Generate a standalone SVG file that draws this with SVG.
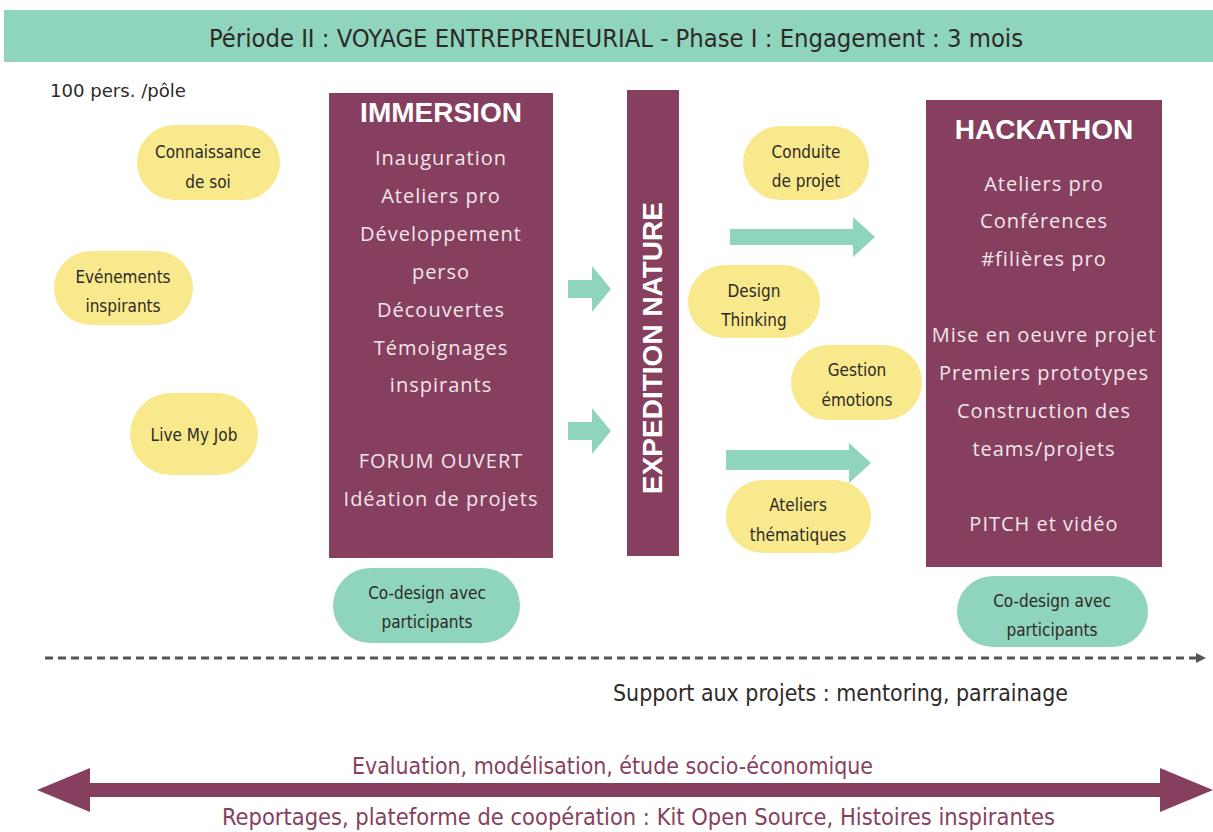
<svg xmlns="http://www.w3.org/2000/svg" width="1213" height="832" viewBox="0 0 1213 832">
<style>
.hand{font-family:'Liberation Sans Narrow','DejaVu Sans Condensed','Liberation Sans',sans-serif;fill:#2e2a28;}
.pill-y{fill:#f8e98c;}
.pill-t{fill:#8fd4bc;}
.box{fill:#863f5e;}
.bt{font-family:'Open Sans','Liberation Sans',sans-serif;fill:#f3e6ea;font-size:20px;letter-spacing:1px;text-anchor:middle;}
.title{font-family:'Liberation Sans',Arial,sans-serif;font-weight:bold;fill:#ffffff;font-size:28px;text-anchor:middle;}
.pt{font-size:17px;text-anchor:middle;}
.arrow{fill:#8fd4bc;}
</style>
<defs>
<marker id="dashHead" markerWidth="10" markerHeight="10" refX="0" refY="5" orient="auto" markerUnits="userSpaceOnUse">
<path d="M0,0 L10,5 L0,10 Z" fill="#555"/>
</marker>
</defs>
<rect width="1213" height="832" fill="#ffffff"/>

<g id="header">
<rect x="4" y="10" width="1209" height="52" fill="#8fd4bc"/>
<text class="hand" x="616" y="47" font-size="25" text-anchor="middle" textLength="814" lengthAdjust="spacingAndGlyphs">Période II : VOYAGE ENTREPRENEURIAL - Phase I : Engagement : 3 mois</text>
</g>

<g id="label-pers">
<text class="hand" x="50" y="97" font-size="18" textLength="136" lengthAdjust="spacingAndGlyphs">100 pers. /pôle</text>
</g>

<g id="connaissance">
<rect class="pill-y" x="137" y="125" width="143" height="75" rx="37.5"/>
<text class="hand pt" x="208" y="158">Connaissance</text>
<text class="hand pt" x="208" y="188">de soi</text>
</g>
<g id="evenements">
<rect class="pill-y" x="54" y="251" width="139" height="74" rx="37"/>
<text class="hand pt" x="123" y="283">Evénements</text>
<text class="hand pt" x="123" y="312">inspirants</text>
</g>
<g id="livemyjob">
<rect class="pill-y" x="130" y="393" width="128" height="82" rx="41"/>
<text class="hand pt" x="194" y="441">Live My Job</text>
</g>

<g id="immersion">
<rect class="box" x="329" y="93" width="224" height="465"/>
<text class="title" x="441" y="122">IMMERSION</text>
<text class="bt" x="441" y="165">Inauguration</text>
<text class="bt" x="441" y="203">Ateliers pro</text>
<text class="bt" x="441" y="241">Développement</text>
<text class="bt" x="441" y="279">perso</text>
<text class="bt" x="441" y="317">Découvertes</text>
<text class="bt" x="441" y="355">Témoignages</text>
<text class="bt" x="441" y="392">inspirants</text>
<text class="bt" x="441" y="468">FORUM OUVERT</text>
<text class="bt" x="441" y="506">Idéation de projets</text>
</g>
<g id="codesign-1">
<rect class="pill-t" x="333" y="568" width="187" height="75" rx="37.5"/>
<text class="hand pt" x="427" y="599">Co-design avec</text>
<text class="hand pt" x="427" y="628">participants</text>
</g>

<g id="expedition">
<rect class="box" x="627" y="90" width="52" height="466"/>
<text class="title" transform="translate(662,348) rotate(-90)" x="0" y="0" font-size="25" textLength="292" lengthAdjust="spacingAndGlyphs">EXPEDITION NATURE</text>
</g>

<g id="conduite">
<rect class="pill-y" x="743" y="126" width="126" height="74" rx="37"/>
<text class="hand pt" x="806" y="158">Conduite</text>
<text class="hand pt" x="806" y="187">de projet</text>
</g>
<g id="design">
<rect class="pill-y" x="688" y="265" width="132" height="73" rx="36.5"/>
<text class="hand pt" x="754" y="297">Design</text>
<text class="hand pt" x="754" y="326">Thinking</text>
</g>
<g id="gestion">
<rect class="pill-y" x="791" y="345" width="131" height="75" rx="37.5"/>
<text class="hand pt" x="857" y="376">Gestion</text>
<text class="hand pt" x="857" y="406">émotions</text>
</g>
<g id="ateliers">
<rect class="pill-y" x="726" y="480" width="145" height="73" rx="36.5"/>
<text class="hand pt" x="798" y="511">Ateliers</text>
<text class="hand pt" x="798" y="541">thématiques</text>
</g>

<g id="hackathon">
<rect class="box" x="926" y="100" width="236" height="467"/>
<text class="title" x="1044" y="139">HACKATHON</text>
<text class="bt" x="1044" y="191">Ateliers pro</text>
<text class="bt" x="1044" y="228">Conférences</text>
<text class="bt" x="1044" y="266">#filières pro</text>
<text class="bt" x="1044" y="342">Mise en oeuvre projet</text>
<text class="bt" x="1044" y="380">Premiers prototypes</text>
<text class="bt" x="1044" y="418">Construction des</text>
<text class="bt" x="1044" y="456">teams/projets</text>
<text class="bt" x="1044" y="531">PITCH et vidéo</text>
</g>
<g id="codesign-2">
<rect class="pill-t" x="957" y="576" width="191" height="71" rx="35.5"/>
<text class="hand pt" x="1052" y="607">Co-design avec</text>
<text class="hand pt" x="1052" y="636">participants</text>
</g>

<g id="connectors">
<path class="arrow" d="M568,280 H592 V266 L611,289 L592,312 V298 H568 Z"/>
<path class="arrow" d="M568,422 H592 V408 L611,431 L592,454 V440 H568 Z"/>
<path class="arrow" d="M730,229 H853 V217 L875,237 L853,257 V245 H730 Z"/>
<path class="arrow" d="M726,450 H849 V443 L871,463 L849,483 V470 H726 Z"/>
<line x1="45" y1="658" x2="1196" y2="658" stroke="#555" stroke-width="3" stroke-dasharray="8 5" marker-end="url(#dashHead)"/>
<path d="M37,790 L90,768 V783 H1160 V768 L1213,790 L1160,812 V797 H90 V812 Z" fill="#863f5e"/>
</g>

<g id="bottom-labels">
<text class="hand" x="613" y="701" font-size="23" textLength="455" lengthAdjust="spacingAndGlyphs">Support aux projets : mentoring, parrainage</text>
<text class="hand" x="352" y="774" font-size="23" style="fill:#863f5e" textLength="521" lengthAdjust="spacingAndGlyphs">Evaluation, modélisation, étude socio-économique</text>
<text class="hand" x="222" y="825" font-size="23" style="fill:#863f5e" textLength="833" lengthAdjust="spacingAndGlyphs">Reportages, plateforme de coopération : Kit Open Source, Histoires inspirantes</text>
</g>
</svg>
